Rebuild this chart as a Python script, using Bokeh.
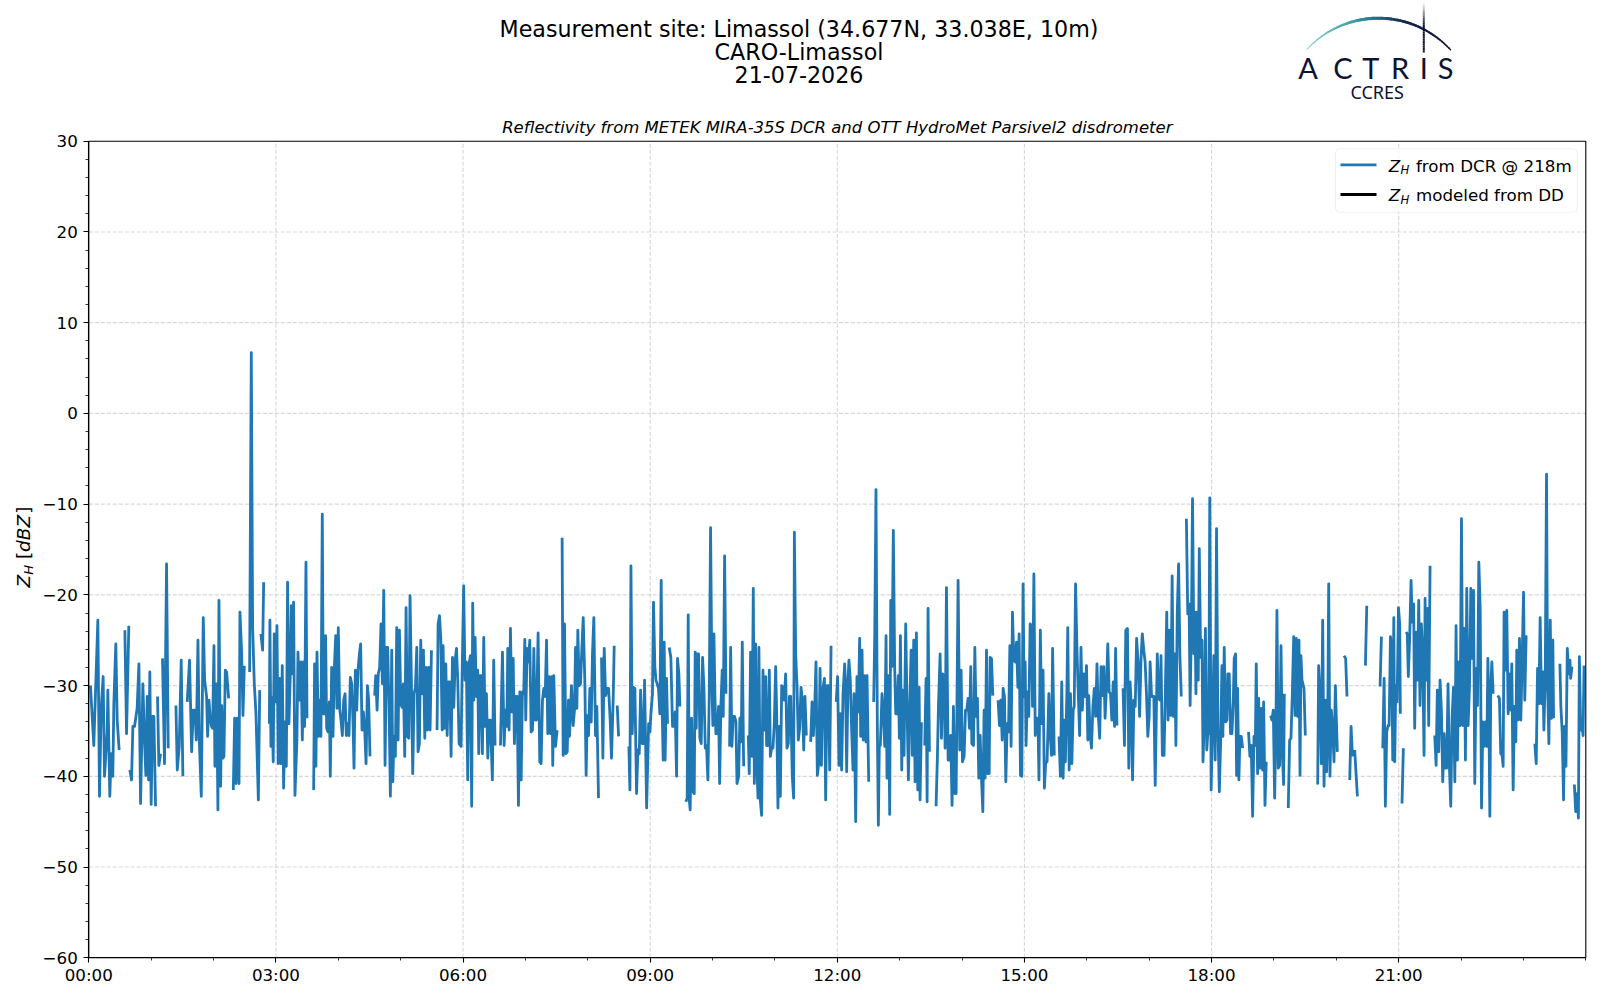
import numpy as np
from bokeh.plotting import figure
from bokeh.models import Range1d, FixedTicker, Label, BoxAnnotation
from bokeh.embed import file_html
from bokeh.resources import INLINE

# ---------------- data: (minutes since 00:00 UTC, Z_H dBZ), None = no data ----------------
dcr_00_03 = [(1.6,-30.0),(4.8,-36.6),(8.7,-22.8),(10.3,-42.2),(11.9,-32.5),(13.8,-29.0),(15.1,-40.0),(17.7,-35.1),(18.3,-30.5),(20.2,-42.2),(21.5,-37.5),(23.1,-40.0),(24.1,-32.0),(26.0,-25.4),(27.3,-33.8),(29.2,-37.1),(32.0,None),(34.7,-23.9),(36.3,-35.3),(38.5,-23.4),(39.0,None),(39.5,-39.3),(41.1,-40.4),(42.4,-34.5),(44.0,-34.5),(46.5,-32.5),(48.2,-27.6),(49.8,-43.0),(52.0,-29.8),(53.6,-36.2),(54.9,-39.9),(56.2,-31.2),(57.5,-40.4),(58.7,-28.5),(60.0,-43.1),(61.3,-33.4),(62.6,-33.4),(64.2,-43.3),(65.2,None),(66.1,-31.2),(67.4,-38.8),(69.0,-37.5),(70.0,None),(70.9,-27.0),(72.8,-38.6),(74.8,-16.6),(76.4,-36.9),(80.0,None),(83.8,-32.2),(85.1,-39.3),(87.0,-36.7),(88.9,-27.2),(90.5,-40.0),(92.6,None),(94.7,-31.8),(96.9,-27.2),(98.9,-37.3),(100.5,-32.7),(102.1,-32.7),(103.4,-36.0),(105.0,-25.0),(106.3,-36.0),(108.2,-42.2),(110.1,-22.5),(111.4,-29.4),(113.3,-31.2),(114.3,-35.6),(115.6,-31.6),(116.8,-33.6),(118.1,-34.5),(119.1,-34.7),(120.4,-25.6),(121.3,-38.9),(122.9,-29.8),(124.2,-43.7),(125.2,-20.6),(126.8,-41.1),(127.8,-32.2),(129.0,-38.0),(130.0,-37.8),(131.3,-28.3),(132.6,-28.5),(134.5,-31.4),(136.8,None),(139.0,-41.5),(140.3,-33.6),(141.6,-40.8),(142.8,-33.6),(144.5,-40.8),(145.4,-21.9),(147.0,-26.3),(148.3,-33.3),(149.6,-27.8),(152.0,None),(154.7,-28.5),(156.3,6.7),(157.6,-23.6),(159.2,-29.8),(160.8,-33.1),(163.1,-42.6),(164.4,-30.5),(165.0,None),(165.6,-24.3),(167.2,-26.1),(168.2,-18.6),(171.0,None),(173.7,-34.2)]

dcr_03_06 = [(174.2,-22.8),(175.2,-36.7),(176.1,-31.3),(177.4,-38.4),(178.4,-24.3),(179.7,-31.8),(181.0,-23.4),(182.2,-38.6),(183.5,-29.2),(184.8,-38.6),(186.1,-27.8),(187.4,-41.3),(188.7,-34.0),(190.0,-38.9),(191.2,-18.6),(192.5,-34.2),(193.8,-28.9),(194.8,-21.2),(196.1,-28.7),(197.0,-20.8),(198.3,-42.1),(200.2,-36.0),(201.2,-26.3),(202.8,-31.6),(204.1,-27.4),(205.4,-36.0),(206.6,-27.4),(207.6,-34.5),(208.9,-16.4),(209.9,-33.6),(213.0,None),(216.3,-41.5),(217.2,-27.6),(218.5,-38.9),(219.5,-26.3),(220.8,-35.6),(222.1,-31.6),(223.3,-35.6),(224.6,-11.1),(225.6,-33.1),(226.9,-33.1),(227.8,-24.5),(228.8,-34.7),(230.1,-35.1),(231.4,-31.8),(232.3,-40.0),(233.6,-28.0),(234.9,-35.6),(236.2,-28.0),(237.5,-24.5),(238.7,-32.5),(240.0,-23.6),(241.3,-32.5),(242.6,-33.8),(243.9,-35.5),(245.2,-31.6),(246.5,-30.9),(247.7,-35.5),(249.0,-34.2),(250.3,-35.5),(251.6,-29.1),(252.9,-29.8),(254.2,-34.2),(255.1,-39.1),(256.4,-28.3),(257.7,-32.7),(259.0,-28.3),(260.3,-26.5),(261.5,-25.4),(262.8,-34.9),(264.1,-32.9),(265.4,-34.9),(266.7,-38.6),(268.0,-30.0),(269.2,-31.6),(270.5,-37.8),(272.8,None),(275.0,-31.1),(276.0,-28.9),(277.3,-32.7),(278.5,-28.7),(279.8,-28.0),(281.1,-23.2),(282.4,-29.8),(283.7,-19.5),(285.0,-38.8),(286.3,-25.8),(287.5,-25.8),(288.8,-32.4),(290.1,-42.2),(291.4,-26.1),(292.4,-40.6),(293.6,-35.6),(294.9,-37.8),(296.2,-23.6),(297.5,-36.0),(298.8,-23.9),(300.1,-32.0),(301.3,-32.4),(302.6,-29.8),(303.9,-37.8),(305.2,-21.4),(306.5,-35.6),(307.8,-35.8),(309.0,-20.1),(310.3,-29.4),(311.6,-39.7),(312.9,-30.9),(314.2,-30.2),(315.5,-25.8),(316.7,-37.3),(318.0,-36.4),(319.3,-25.0),(320.6,-30.9),(321.9,-26.1),(323.2,-35.8),(324.5,-28.0),(325.7,-34.9),(327.0,-28.0),(328.3,-34.9),(329.6,-26.1),(332.3,None),(335.0,-34.9),(336.0,-23.2),(337.3,-22.3),(338.6,-24.8),(339.9,-34.9),(340.8,-25.6),(342.1,-34.7),(343.4,-27.6),(344.7,-35.5),(346.0,-29.6),(347.2,-29.6),(348.5,-37.8),(349.8,-26.9),(351.1,-32.4),(352.4,-27.2),(353.7,-25.9),(354.9,-29.4),(356.2,-36.4)]

dcr_06_09 = [(358.1,-36.7),(359.0,-29.4),(360.6,-19.0),(361.9,-29.4),(363.2,-27.4),(364.5,-40.4),(365.8,-27.6),(367.1,-26.7),(368.3,-43.3),(369.3,-20.9),(370.3,-31.6),(371.6,-24.7),(372.8,-31.2),(374.1,-28.3),(375.1,-37.5),(376.1,-28.9),(377.3,-28.9),(378.6,-37.5),(379.9,-24.7),(381.2,-34.5),(382.5,-30.9),(383.8,-38.0),(385.0,-33.8),(386.3,-33.8),(388.2,-40.4),(389.5,-27.2),(390.8,-36.6),(393.4,None),(396.0,-36.6),(397.9,-26.3),(399.5,-36.6),(400.8,-32.7),(402.1,-34.5),(403.0,-25.9),(404.3,-34.9),(405.6,-23.7),(406.9,-32.9),(408.2,-27.0),(409.4,-36.4),(410.7,-31.2),(412.0,-31.2),(413.3,-43.2),(414.6,-30.7),(415.9,-40.4),(417.1,-30.7),(418.4,-30.9),(419.4,-24.9),(420.3,-33.8),(421.6,-25.9),(422.9,-27.4),(424.2,-25.0),(425.5,-35.1),(426.8,-34.9),(428.1,-25.9),(429.3,-33.8),(430.6,-33.8),(432.2,-24.2),(433.8,-38.4),(435.1,-38.6),(436.4,-31.6),(437.7,-30.3),(439.0,-31.2),(440.3,-25.0),(441.5,-35.3),(442.8,-29.0),(444.1,-35.3),(445.4,-29.0),(446.3,-38.8),(447.3,-28.9),(448.9,-36.7),(450.5,-34.9),(452.9,None),(455.3,-13.7),(456.3,-37.7),(457.6,-23.2),(458.9,-37.5),(460.2,-37.3),(461.4,-31.6),(462.4,-35.6),(464.3,-30.0),(465.9,-34.4),(467.2,-32.7),(468.2,-25.8),(469.5,-32.5),(470.4,-23.9),(471.7,-30.0),(473.0,-29.8),(474.3,-25.9),(475.6,-22.5),(477.2,-29.8),(478.4,-39.9),(479.4,-33.3),(480.7,-35.5),(482.0,-30.3),(483.3,-34.0),(484.5,-26.5),(485.8,-22.5),(487.4,-35.5),(488.7,-32.3),(490.3,-42.4),(491.8,None),(493.2,-26.9),(494.5,-38.0),(495.8,-25.9),(497.1,-31.1),(498.7,-30.3),(500.0,-30.3),(501.6,-34.0),(502.8,-38.0),(504.5,-31.1),(505.4,-25.6),(506.9,None),(508.3,-32.2),(509.6,-35.6),(514.5,None),(519.5,-36.7),(520.5,-41.5),(521.5,-16.8),(522.7,-35.3),(524.0,-30.2),(525.3,-30.3),(526.9,-41.9),(528.2,-37.1),(529.5,-37.5),(530.8,-30.5),(532.4,-36.4),(533.7,-36.4),(534.6,-29.4),(536.6,-43.5),(538.5,-34.2),(539.8,-35.1)]

dcr_09_12 = [(540.6,-33.3),(542.2,-30.9),(543.2,-20.8),(544.5,-27.9),(545.5,-29.4),(546.7,-29.8),(548.0,-30.3),(549.3,-33.1),(550.6,-18.4),(551.6,-33.1),(552.5,-38.2),(553.5,-25.2),(554.4,-38.2),(555.7,-29.2),(556.7,-34.2),(557.5,None),(558.3,-25.8),(559.9,-26.9),(561.5,-34.5),(562.8,-34.5),(564.1,-32.9),(565.4,-40.0),(566.3,-27.0),(567.6,-28.7),(568.6,-32.3),(571.5,None),(574.3,-42.8),(575.6,-42.4),(576.6,-22.2),(577.6,-42.6),(578.5,-43.7),(579.8,-33.6),(581.1,-41.7),(582.4,-41.9),(583.3,-26.3),(584.3,-34.7),(585.3,-26.5),(586.5,-26.5),(587.8,-35.8),(589.1,-36.4),(590.4,-26.9),(591.7,-30.2),(593.0,-36.9),(594.2,-36.6),(595.5,-40.4),(596.8,-31.2),(598.1,-12.6),(599.4,-30.0),(600.3,-34.4),(601.3,-24.3),(602.3,-31.2),(603.2,-35.3),(604.5,-35.3),(605.8,-32.3),(606.8,-40.8),(608.1,-32.0),(609.3,-28.3),(610.3,-33.4),(611.6,-15.7),(612.9,-30.9),(614.6,None),(616.4,-36.7),(617.4,-25.8),(618.6,-36.7),(619.9,-33.4),(621.2,-33.4),(622.5,-34.0),(623.5,-40.8),(625.1,-40.0),(626.3,-33.6),(627.6,-36.2),(628.6,-25.2),(629.9,-38.9),(632.1,None),(634.4,-35.5),(635.3,-39.7),(636.6,-26.3),(637.9,-37.8),(639.2,-19.3),(640.2,-40.8),(641.4,-25.4),(642.4,-37.8),(643.7,-42.4),(644.6,-25.8),(645.9,-42.6),(647.2,-44.3),(648.5,-28.3),(649.8,-34.9),(651.1,-29.0),(652.0,-36.6),(653.3,-36.6),(654.6,-28.3),(655.6,-37.8),(656.8,-36.9),(658.1,-36.9),(659.4,-34.2),(660.7,-27.9),(661.7,-33.1),(662.9,-43.5),(664.2,-34.5),(665.2,-42.2),(666.5,-30.0),(667.8,-30.2),(669.0,-31.6),(670.3,-28.7),(671.6,-36.9),(672.9,-36.4),(673.9,-31.2),(675.1,-31.2),(676.7,-40.0),(678.0,-42.4),(678.7,-13.1),(680.0,-26.7),(681.2,-29.8),(682.5,-36.0),(683.8,-34.7),(685.1,-30.2),(686.4,-31.6),(687.7,-37.1),(688.9,-31.2),(690.2,-35.5),(692.3,None),(694.4,-36.2),(695.7,-31.8),(697.0,-35.5),(698.3,-32.3),(699.5,-27.4),(700.8,-39.9),(702.1,-38.6),(703.4,-28.1),(704.7,-38.8),(706.0,-30.5),(707.6,-29.2),(708.8,-42.6),(710.1,-30.0),(711.4,-30.0),(712.7,-39.3),(714.0,-25.6),(716.5,None)]

dcr_12_15 = [(719.0,-31.8),(720.3,-29.0),(721.6,-38.8),(722.9,-33.1),(724.2,-39.3),(725.5,-30.9),(727.1,-27.6),(728.0,-30.5),(729.0,-39.5),(730.3,-29.4),(731.2,-27.2),(732.5,-29.4),(733.8,-34.9),(735.1,-39.3),(736.1,-30.9),(737.7,-45.0),(738.9,-29.0),(740.2,-32.9),(741.5,-24.8),(742.5,-35.6),(743.8,-26.1),(745.0,-36.0),(746.3,-28.9),(747.6,-36.2),(748.6,-28.9),(750.2,-40.6),(752.6,None),(755.0,-31.8),(756.0,-24.6),(757.2,-8.4),(758.5,-34.2),(759.5,-45.4),(760.4,-36.6),(761.4,-36.6),(763.0,-30.9),(764.6,-33.8),(765.6,-36.7),(766.9,-24.5),(767.8,-40.2),(769.1,-28.9),(770.4,-44.2),(771.4,-20.6),(772.6,-27.9),(773.9,-12.9),(775.2,-27.9),(776.2,-33.1),(777.5,-33.1),(778.7,-28.9),(779.7,-35.8),(780.7,-24.5),(782.0,-39.3),(782.9,-30.5),(784.2,-37.7),(785.8,-23.2),(787.1,-32.3),(788.4,-40.4),(789.7,-32.3),(791.0,-26.1),(792.2,-37.7),(793.5,-25.0),(794.8,-40.6),(796.1,-24.2),(797.4,-41.5),(798.7,-30.2),(799.6,-42.6),(800.9,-34.2),(802.2,-34.2),(803.2,None),(804.1,-36.6),(805.4,-29.2),(806.4,-42.8),(807.3,-21.5),(808.6,-37.3),(811.8,None),(815.0,-43.3),(816.3,-37.8),(817.3,-32.3),(818.9,-26.5),(820.2,-35.8),(821.4,-28.7),(822.7,-29.0),(823.7,-36.9),(825.0,-19.2),(826.6,-38.2),(828.2,-38.2),(829.1,-35.5),(830.4,-43.2),(831.7,-32.3),(833.0,-41.9),(834.3,-41.9),(836.2,-18.4),(837.8,-37.1),(839.1,-28.3),(840.4,-38.4),(842.0,-37.8),(843.3,-32.7),(844.5,-32.7),(845.8,-31.4),(847.1,-34.7),(848.4,-27.9),(849.4,-36.4),(851.0,-36.6),(852.3,-25.8),(853.5,-33.4),(854.8,-31.4),(856.1,-40.2),(857.4,-35.5),(858.7,-40.2),(860.0,-43.9),(861.2,-32.7),(862.2,-40.2),(863.5,-26.1),(864.8,-39.7),(866.1,-39.7),(867.0,-26.9),(868.3,-27.0),(869.6,-31.1),(872.2,None),(874.7,-31.6),(876.0,-34.4),(877.3,-31.6),(878.6,-36.0),(879.5,-30.3),(880.8,-31.2),(882.1,-40.6),(883.4,-34.2),(884.7,-35.1),(886.0,-25.6),(887.2,-36.7),(888.5,-21.9),(889.8,-27.2),(891.1,-27.4),(892.4,-25.2),(893.7,-30.2),(894.9,-24.3),(896.2,-39.9),(897.5,-40.0)]

dcr_15_18 = [(898.7,-18.8),(899.7,-31.2),(900.7,-27.4),(901.6,-36.6),(902.9,-30.7),(904.2,-33.4),(905.5,-23.2),(906.8,-23.4),(907.8,-32.3),(909.1,-17.7),(910.4,-35.5),(911.7,-33.6),(913.0,-33.6),(914.0,-40.4),(915.3,-23.9),(916.6,-34.2),(917.9,-28.3),(919.2,-41.3),(920.5,-38.4),(921.8,-38.4),(923.5,-30.9),(924.8,-35.5),(926.1,-37.7),(927.1,-25.9),(928.7,-37.7),(931.0,None),(933.3,-35.6),(934.6,-40.0),(935.9,-29.6),(937.2,-40.2),(938.5,-33.8),(939.4,-38.4),(940.8,-30.9),(941.7,-23.6),(943.0,-39.3),(944.3,-30.9),(945.6,-38.6),(946.9,-32.7),(947.9,-32.3),(949.2,-18.8),(950.5,-25.8),(951.8,-30.9),(953.1,-35.5),(954.4,-25.8),(955.7,-32.7),(957.1,-28.7),(958.4,-31.2),(959.7,-27.8),(961.0,-36.0),(961.9,-31.1),(963.2,-35.3),(964.5,-36.9),(965.9,-32.3),(967.2,-30.3),(968.5,-33.4),(969.8,-27.6),(971.1,-33.4),(972.4,-35.8),(973.7,-27.9),(975.0,-31.1),(976.3,-27.9),(977.6,-33.6),(978.9,-30.2),(980.2,-25.4),(981.5,-30.7),(982.8,-30.9),(984.1,-33.8),(985.4,-29.6),(986.7,-34.5),(987.7,-25.9),(989.0,-34.4),(992.0,None),(994.9,-30.3),(996.2,-36.6),(997.5,-23.9),(999.1,-23.7),(1000.4,-39.1),(1001.7,-29.6),(1003.0,-32.9),(1004.0,-40.4),(1005.3,-31.6),(1006.6,-32.3),(1007.9,-24.8),(1009.5,-27.8),(1010.8,-33.4),(1012.1,-27.2),(1013.4,-24.3),(1014.8,-26.1),(1016.1,-27.4),(1017.4,-30.9),(1018.7,-35.6),(1020.0,-33.4),(1020.9,-27.4),(1022.3,-31.2),(1023.2,-31.2),(1024.5,-31.2),(1025.8,-41.0),(1027.1,-31.6),(1027.8,-26.5),(1029.1,-31.4),(1030.4,-31.6),(1031.4,-26.7),(1032.7,-37.7),(1034.3,-37.7),(1035.6,-30.5),(1036.9,-21.9),(1038.2,-33.8),(1039.5,-23.9),(1040.8,-33.3),(1042.1,-17.9),(1043.4,-33.4),(1044.7,-26.5),(1045.7,-36.6),(1047.0,-22.1),(1048.3,-16.6),(1049.6,-26.9),(1050.9,-31.2),(1053.3,None),(1055.8,-11.6),(1057.1,-22.1),(1058.4,-21.0),(1059.4,-32.2),(1060.7,-22.8),(1061.7,-9.4),(1063.0,-26.5),(1064.0,-21.9),(1065.0,-30.9),(1065.9,-21.9),(1067.2,-29.4),(1068.2,-14.9),(1069.5,-26.9),(1070.8,-25.0),(1071.8,-38.4),(1073.1,-33.4),(1074.1,-23.7),(1075.4,-37.1),(1076.4,-35.3),(1077.3,-35.3),(1078.3,-9.3),(1079.6,-41.5),(1080.9,-34.5),(1082.2,-26.7),(1083.5,-38.2),(1084.8,-12.7),(1086.1,-34.5),(1087.5,-41.7)]

dcr_18_21 = [(1088.7,-36.4),(1090.0,-27.8),(1090.9,-35.6),(1092.2,-25.8),(1093.5,-34.0),(1094.8,-33.8),(1095.7,-28.7),(1097.0,-28.7),(1098.3,-35.3),(1099.6,-35.3),(1100.9,-31.8),(1101.8,-27.0),(1103.1,-26.5),(1104.1,-39.9),(1105.0,-30.3),(1106.3,-40.4),(1107.3,-35.6),(1108.6,-35.6),(1109.9,-36.9),(1112.8,None),(1115.6,-35.1),(1116.9,-37.8),(1118.2,-36.6),(1119.5,-44.4),(1120.8,-35.6),(1122.1,-36.6),(1123.0,-27.6),(1124.3,-39.7),(1125.3,-31.4),(1126.5,-39.1),(1127.8,-32.5),(1129.1,-39.3),(1130.1,-31.8),(1131.4,-43.2),(1132.6,-38.4),(1134.7,None),(1136.8,-33.3),(1138.1,-33.8),(1139.4,-32.7),(1140.7,-42.4),(1142.0,-33.8),(1142.9,-21.7),(1144.2,-39.1),(1145.5,-38.8),(1146.8,-25.6),(1148.1,-37.3),(1149.3,-40.9),(1150.0,-30.9),(1152.0,None),(1153.8,-43.5),(1155.1,-36.0),(1156.4,-35.8),(1157.7,-30.9),(1159.0,-24.6),(1160.3,-33.3),(1161.5,-24.8),(1162.8,-33.4),(1164.1,-25.0),(1165.1,-39.9),(1166.0,-26.7),(1167.0,-29.4),(1168.9,-30.3),(1170.2,-35.5),(1176.0,None),(1182.1,-40.9),(1183.0,-27.8),(1184.3,-30.9),(1185.6,-38.6),(1186.9,-22.8),(1188.2,-41.1),(1189.5,-31.6),(1190.7,-39.5),(1191.7,-34.9),(1192.7,-18.8),(1193.9,-40.0),(1195.2,-32.7),(1196.5,-34.7),(1197.8,-38.4),(1199.1,-30.0),(1201.0,-37.3),(1204.0,None),(1207.4,-26.7),(1209.0,-27.0),(1210.3,-31.2),(1211.6,None),(1212.9,-40.4),(1214.2,-34.5),(1215.5,-37.8),(1216.6,None),(1217.7,-37.1),(1219.0,-39.7),(1220.3,-42.2),(1224.0,None),(1228.0,-27.8),(1229.3,-21.2),(1236.0,None),(1242.1,-30.1),(1243.4,-24.6),(1244.0,None),(1244.7,-36.9),(1246.0,-29.2),(1247.2,-43.3),(1248.5,-35.1),(1249.8,-34.4),(1250.8,-34.4),(1252.1,-24.6),(1253.3,-25.8),(1254.3,-38.2),(1255.3,-22.5),(1256.2,-38.4),(1257.2,-30.0),(1258.5,-31.8),(1259.8,-21.4),(1261.0,-23.2)]

dcr_21_24 = [(1261.6,-33.1),(1262.4,None),(1263.2,-43.0),(1264.5,-36.9),(1265.8,None),(1267.1,-24.1),(1268.3,-24.3),(1269.3,-29.0),(1270.6,-24.6),(1271.9,-18.4),(1273.2,-23.0),(1274.4,-21.0),(1275.4,-34.7),(1276.7,-24.1),(1278.0,-29.4),(1279.3,-20.6),(1280.5,-32.2),(1281.8,-23.2),(1283.1,-26.5),(1284.4,-37.7),(1285.4,-20.4),(1286.3,-29.4),(1287.6,-21.5),(1288.9,-34.4),(1290.2,-16.8),(1292.5,None),(1294.7,-35.5),(1296.0,-38.8),(1297.2,-30.5),(1298.5,-37.3),(1299.8,-29.4),(1301.1,-32.7),(1302.4,-40.6),(1303.7,-35.3),(1305.0,-39.1),(1306.2,-39.1),(1307.5,-29.8),(1308.8,-38.9),(1310.1,-43.3),(1311.4,-33.4),(1312.7,-30.2),(1314.0,-40.6),(1315.2,-23.4),(1316.5,-38.2),(1317.8,-27.4),(1319.1,-34.4),(1320.4,-11.6),(1321.7,-34.4),(1323.0,-23.7),(1324.2,-38.2),(1325.5,-19.3),(1326.8,-34.4),(1328.1,-30.2),(1329.4,-19.3),(1330.7,-27.0),(1332.0,-19.5),(1333.2,-40.8),(1334.5,-28.1),(1335.8,-32.2),(1337.1,-16.4),(1338.4,-21.4),(1339.7,-43.5),(1341.0,-34.0),(1342.2,-36.7),(1343.5,-34.0),(1344.8,-36.7),(1345.8,-27.0),(1346.7,-32.5),(1347.7,-44.4),(1348.6,-30.3),(1349.6,-27.4),(1350.9,-30.9),(1353.1,None),(1355.3,-31.1),(1356.9,-31.4),(1358.2,-37.5),(1359.5,-37.7),(1360.5,-38.9),(1361.4,-21.9),(1362.7,-28.3),(1364.0,-21.7),(1365.3,-33.1),(1366.6,-28.7),(1367.9,-32.7),(1368.8,-27.6),(1370.1,-41.5),(1371.4,-32.3),(1372.7,-36.2),(1373.6,-26.1),(1374.9,-33.8),(1376.2,-24.8),(1377.5,-33.8),(1378.8,-27.0),(1380.1,-19.7),(1381.3,-31.6),(1382.6,-24.6),(1383.9,-24.6),(1387.5,None),(1391.0,-36.4),(1392.3,-38.6),(1393.6,-28.1),(1394.8,-32.0),(1396.1,-22.5),(1397.4,-32.0),(1398.7,-28.5),(1399.7,-34.9),(1401.0,-29.0),(1402.2,-6.7),(1403.2,-29.4),(1404.5,-36.4),(1405.8,-22.8),(1407.1,-33.6),(1408.3,-25.0),(1409.0,-33.6),(1412.0,None),(1415.1,-27.6),(1416.0,-32.3),(1417.3,-35.1),(1418.6,-42.6),(1419.6,-34.5),(1420.9,-38.9),(1422.2,-25.9),(1423.5,-28.7),(1424.8,-27.2),(1425.4,-29.2),(1426.7,-27.9),(1427.8,None),(1429.0,-40.9),(1430.3,-43.9),(1431.6,-41.9),(1432.9,-44.6),(1433.8,-26.8),(1435.1,-34.9),(1436.4,-34.5),(1437.4,-35.5),(1438.3,-27.8)]

x_limits = (0, 1440)          # minutes of the day
y_limits = (-60, 30)          # dBZ
x_tick_minutes = [0, 180, 360, 540, 720, 900, 1080, 1260]
x_tick_labels = ["00:00", "03:00", "06:00", "09:00", "12:00", "15:00", "18:00", "21:00"]
y_ticks = [-60, -50, -40, -30, -20, -10, 0, 10, 20, 30]
y_tick_labels = ["\u221260", "\u221250", "\u221240", "\u221230", "\u221220", "\u221210", "0", "10", "20", "30"]

title_lines = ["Measurement site: Limassol (34.677N, 33.038E, 10m)", "CARO-Limassol", "21-07-2026"]
subtitle = "Reflectivity from METEK MIRA-35S DCR and OTT HydroMet Parsivel2 disdrometer"
legend_rest = ["from DCR @ 218m", "modeled from DD"]
legend_colors = ["#1f77b4", "#000000"]

# ---------------- series ----------------
blocks = [dcr_00_03, dcr_03_06, dcr_06_09, dcr_09_12, dcr_12_15, dcr_15_18, dcr_18_21, dcr_21_24]
pts = [pt for b in blocks for pt in b]
t_min = np.array([pt[0] for pt in pts], dtype=float)
zh = np.array([np.nan if pt[1] is None else pt[1] for pt in pts], dtype=float)

# ---------------- canvas geometry (pixels) ----------------
W, H = 1596, 996
FR_L, FR_R, FR_T, FR_B = 88.3, 1585.3, 140.7, 957.3     # axes box on the page
SX = (FR_R - FR_L) / (x_limits[1] - x_limits[0])
SY = (FR_B - FR_T) / (y_limits[1] - y_limits[0])
def xd(px):
    return x_limits[0] + (np.asarray(px, dtype=float) - FR_L) / SX
def yd(py):
    return y_limits[1] - (np.asarray(py, dtype=float) - FR_T) / SY
BASE = 0.39   # compensation of the alphabetic-baseline offset seen in the svg text

FONT = "DejaVu Sans"

p = figure(width=W, height=H, x_range=Range1d(float(xd(0)), float(xd(W))),
           y_range=Range1d(float(yd(H)), float(yd(0))),
           output_backend="svg", toolbar_location=None,
           min_border_left=0, min_border_right=0, min_border_top=0, min_border_bottom=0)
p.background_fill_color = "white"
p.border_fill_color = "white"
p.outline_line_color = None
p.grid.visible = False

# dashed grid at the major ticks
p.segment(x0=x_tick_minutes[1:], y0=[y_limits[0]] * (len(x_tick_minutes) - 1),
          x1=x_tick_minutes[1:], y1=[y_limits[1]] * (len(x_tick_minutes) - 1),
          line_color="#b0b0b0", line_alpha=0.5, line_width=1.1, line_dash="4 2")
p.segment(x0=[x_limits[0]] * (len(y_ticks) - 2), y0=y_ticks[1:-1],
          x1=[x_limits[1]] * (len(y_ticks) - 2), y1=y_ticks[1:-1],
          line_color="#b0b0b0", line_alpha=0.5, line_width=1.1, line_dash="4 2")

# data
p.line(t_min, zh, line_color="#1f77b4", line_width=2.8, line_join="round")

# axes box
p.quad(left=[x_limits[0]], right=[x_limits[1]], bottom=[y_limits[0]], top=[y_limits[1]],
       fill_color=None, line_color="black", line_width=1.1)

# axes
p.xaxis.fixed_location = y_limits[0]
p.yaxis.fixed_location = x_limits[0]
p.xaxis.bounds = x_limits
p.yaxis.bounds = y_limits
p.xaxis.ticker = FixedTicker(ticks=x_tick_minutes, minor_ticks=list(range(0, 1441, 60)))
p.xaxis.major_label_overrides = {k: v for k, v in zip(x_tick_minutes, x_tick_labels)}
p.yaxis.ticker = FixedTicker(ticks=y_ticks, minor_ticks=list(range(-60, 31, 2)))
p.yaxis.major_label_overrides = {k: v for k, v in zip(y_ticks, y_tick_labels)}
for ax in (p.xaxis[0], p.yaxis[0]):
    ax.axis_line_color = "black"
    ax.axis_line_width = 1.1
    ax.major_tick_line_color = "black"
    ax.major_tick_line_width = 1.1
    ax.major_tick_in = 0
    ax.major_tick_out = 5
    ax.minor_tick_line_color = "black"
    ax.minor_tick_line_width = 0.8
    ax.minor_tick_in = 0
    ax.minor_tick_out = 3
    ax.major_label_text_font = FONT
    ax.major_label_text_font_size = "16.7px"
    ax.major_label_text_color = "black"
p.xaxis.major_label_standoff = 2
p.yaxis.major_label_standoff = 6

def label(px, py, text, size, style="normal", font=FONT, color="black", align="center", **kw):
    fs = float(size)
    lab = Label(x=float(xd(px)), y=float(yd(py - BASE * fs)), text=text, text_font=font,
                text_font_size="%.1fpx" % fs, text_font_style=style, text_align=align,
                text_baseline="alphabetic", text_color=color, **kw)
    p.add_layout(lab)
    return lab

# ---------------- titles ----------------
for txt, yb in zip(title_lines, [37.2, 59.8, 82.3]):
    label(798.5, yb, txt, 22.2)
label(836.8, 133.5, subtitle, 16.5, style="italic")

# ---------------- logo ----------------
def grad(stops, s):
    pos = [a for a, _ in stops]
    cols = np.array([[int(c[1:3], 16), int(c[3:5], 16), int(c[5:7], 16)] for _, c in stops], float)
    out = []
    for v in s:
        rgb = [np.interp(v, pos, cols[:, k]) for k in range(3)]
        out.append("#%02x%02x%02x" % tuple(int(round(c)) for c in rgb))
    return out

th = np.radians(np.linspace(-47.4, 47.4, 70))
acx, acy, ar = 1378.0, 115.5, 97.8
apx = acx + ar * np.sin(th)
apy = acy - ar * np.cos(th)
sp = np.linspace(0, 1, len(th) - 1)
arc_cols = grad([(0, "#9ad8d2"), (0.3, "#46a9ae"), (0.5, "#236e86"), (0.66, "#16284f"), (1, "#0e1334")], sp)
arc_w = np.interp(sp, [0, 0.45, 0.75, 1], [1.0, 3.2, 2.4, 1.4])
p.segment(x0=xd(apx[:-1]), y0=yd(apy[:-1]), x1=xd(apx[1:]), y1=yd(apy[1:]),
          line_color=arc_cols, line_width=arc_w, line_cap="round")

vpy = np.linspace(1.0, 52.0, 30)
vs = np.linspace(0, 1, len(vpy) - 1)
v_cols = grad([(0, "#ffffff"), (0.45, "#0e1334"), (1, "#0e1334")], vs)
p.segment(x0=xd([1423.3] * (len(vpy) - 1)), y0=yd(vpy[:-1]), x1=xd([1423.3] * (len(vpy) - 1)),
          y1=yd(vpy[1:]), line_color=v_cols, line_width=2.0)

for ch, cx in zip("ACTRIS", [1307.5, 1342.5, 1370.3, 1399.7, 1423.2, 1445.0]):
    label(cx, 78.3, ch, 29, font="Lato", color="#0e1334")
label(1376.7, 99.0, "CCRES", 18, font="Noto Sans", color="#0e1334")

# ---------------- y-axis label  Z_H [dBZ]  (rotated) ----------------
ybase_px, ystart_py = 30.5, 587.0
for txt, sty, fs, off, sub in [("Z", "italic", 18.5, 0.0, 0.0), ("H", "italic", 13.0, 12.7, 2.8),
                                ("[", "normal", 18.5, 28.4, 0.0), ("dBZ", "italic", 18.5, 35.6, 0.0),
                                ("]", "normal", 18.5, 73.7, 0.0)]:
    p.add_layout(Label(x=float(xd(ybase_px - BASE * fs + sub)), y=float(yd(ystart_py)), text=txt,
                       text_font=FONT, text_font_size="%.1fpx" % fs, text_font_style=sty,
                       angle=np.pi / 2, y_offset=off, text_align="left",
                       text_baseline="alphabetic", text_color="black"))

# ---------------- legend ----------------
p.add_layout(BoxAnnotation(left=float(xd(1335.0)), right=float(xd(1576.7)),
                           top=float(yd(148.3)), bottom=float(yd(211.7)),
                           fill_color="white", fill_alpha=0.8, line_color="#cccccc",
                           line_width=1, border_radius=4))
row_line_py = [164.3, 194.0]
row_base_py = [171.7, 201.4]
seg = p.segment(x0=xd([1340.0, 1340.0]), y0=yd(row_line_py), x1=xd([1376.0, 1376.0]),
                y1=yd(row_line_py), line_color=legend_colors, line_width=2.8)
seg.level = "overlay"
for yb, rest in zip(row_base_py, legend_rest):
    for txt, sty, fs, xo, yo in [("Z", "italic", 16.7, 0.0, 0.0), ("H", "italic", 11.7, 11.6, 2.6),
                                  (rest, "normal", 16.7, 27.2, 0.0)]:
        lab = label(1388.3 + xo, yb + yo, txt, fs, style=sty, align="left")
        lab.level = "overlay"

open("out.html", "w").write(file_html(p, INLINE))
